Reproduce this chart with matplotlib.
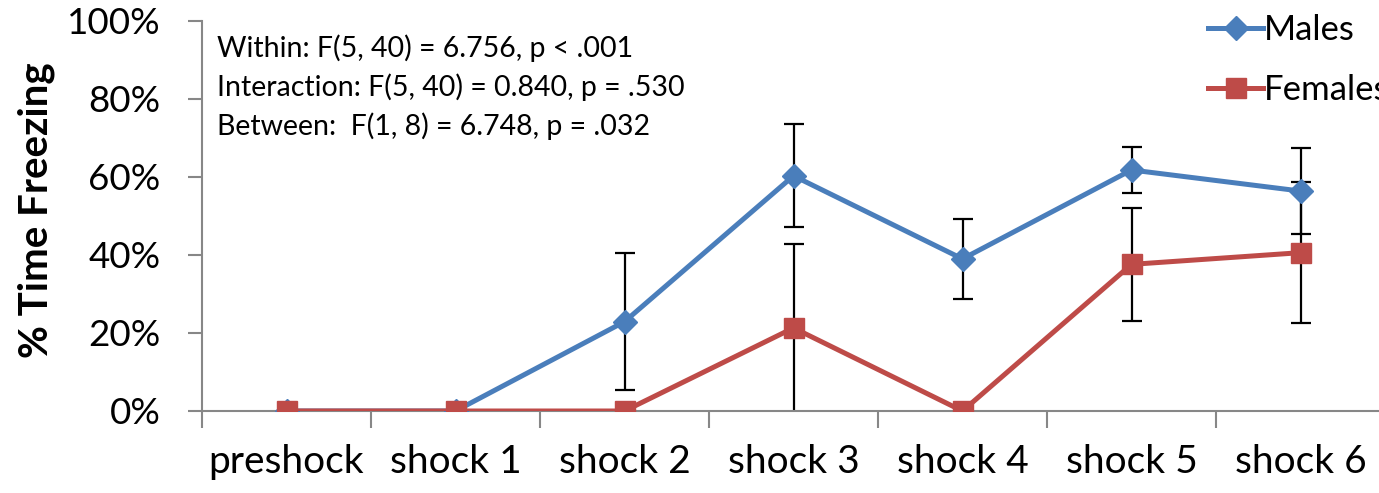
import matplotlib.pyplot as plt
from matplotlib.ticker import PercentFormatter

plt.rcParams['font.family'] = ['Lato', 'DejaVu Sans']

# Data
phases = ["preshock", "shock 1", "shock 2", "shock 3", "shock 4", "shock 5", "shock 6"]
males = [0, 0, 22.9, 60.3, 39.0, 61.8, 56.4]
males_err = [0, 0, 17.6, 13.2, 10.3, 6.0, 11.0]
females = [0, 0, 0, 21.3, 0, 37.6, 40.6]
females_err = [0, 0, 0, 21.5, 0, 14.4, 18.0]
stats = ["Within: F(5, 40) = 6.756, p < .001",
         "Interaction: F(5, 40) = 0.840, p = .530",
         "Between:  F(1, 8) = 6.748, p = .032"]

blue = "#4A7EBB"
red = "#BE4B48"

fig = plt.figure(figsize=(13.79, 4.93), dpi=100)
ax = fig.add_axes([202 / 1379, 82 / 493, 1183 / 1379, 390 / 493])

x = range(len(phases))
ax.errorbar(x, [m / 100 for m in males], yerr=[e / 100 for e in males_err],
            fmt="none", ecolor="black", elinewidth=1.6, capsize=7, capthick=1.6, zorder=2)
ax.errorbar(x, [f / 100 for f in females], yerr=[e / 100 for e in females_err],
            fmt="none", ecolor="black", elinewidth=1.6, capsize=7, capthick=1.6, zorder=2)
ax.plot(x, [m / 100 for m in males], color=blue, lw=3.6, marker="D", ms=12,
        label="Males", zorder=3)
ax.plot(x, [f / 100 for f in females], color=red, lw=3.6, marker="s", ms=14,
        label="Females", zorder=4)

ax.set_xlim(-0.5, 6.5)
ax.set_ylim(0, 1)
ax.set_yticks([0, 0.2, 0.4, 0.6, 0.8, 1.0])
ax.yaxis.set_major_formatter(PercentFormatter(1.0, decimals=0))
ax.set_xticks(list(x))
ax.set_xticklabels(phases)
ax.set_xticks([i - 0.5 for i in range(8)], minor=True)
ax.tick_params(axis="x", which="major", length=0, labelsize=28, pad=24)
ax.tick_params(axis="x", which="minor", length=12, color="#878787", width=1.5, direction="out")
ax.tick_params(axis="y", length=10, color="#878787", width=1.5, labelsize=26.5, pad=20)
ax.set_ylabel("% Time Freezing", fontsize=29, fontweight="bold")
ax.yaxis.set_label_coords((55 - 202) / 1183, 0.515)

for side in ("top", "right"):
    ax.spines[side].set_visible(False)
for side in ("left", "bottom"):
    ax.spines[side].set_color("#878787")
    ax.spines[side].set_linewidth(1.5)
ax.spines["left"].set_zorder(1)

for i, line in enumerate(stats):
    fig.text(217 / 1379, 1 - (48 + 39 * i) / 493, line, fontsize=20.5, va="center", ha="left")

ax.legend(loc="upper left", bbox_to_anchor=(1194 / 1379, 1.0), bbox_transform=fig.transFigure,
          frameon=False, fontsize=25, handlelength=1.6, handletextpad=0.02,
          labelspacing=0.8, borderaxespad=0)

fig.savefig("out.png", dpi=100)
